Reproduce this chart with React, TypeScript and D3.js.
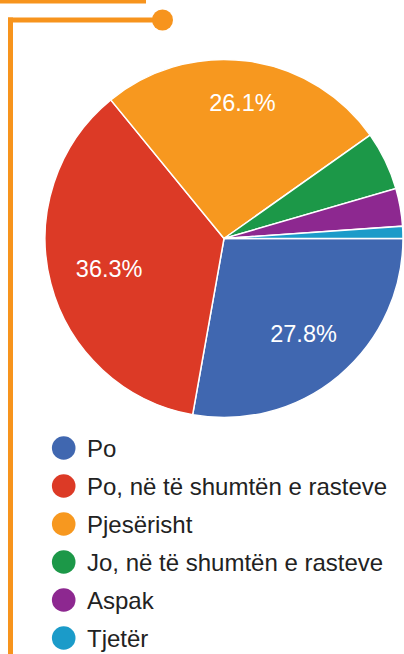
import React from "react";
import * as d3 from "d3";

const categories = ["Po", "Po, në të shumtën e rasteve", "Pjesërisht", "Jo, në të shumtën e rasteve", "Aspak", "Tjetër"];
const values = [27.8, 36.3, 26.1, 5.3, 3.4, 1.1];
const colors = ["#4067b0", "#dc3a26", "#f7981f", "#1c9848", "#8d2890", "#1b9bc9"];
const labelThreshold = 10;

const W = 404;
const H = 654;
const cx = 224;
const cy = 238.5;
const R = 179;
const accent = "#f7941d";
const FONT = "'Liberation Sans', Arial, sans-serif";
const labelSize = 23.5;

function measure(text: string, size: number): number {
  if (typeof document === "undefined") return text.length * size * 0.55;
  const c = document.createElement("canvas").getContext("2d");
  if (!c) return text.length * size * 0.55;
  c.font = `${size}px ${FONT}`;
  return c.measureText(text).width;
}

export default function App() {
  const pie = d3
    .pie<number>()
    .sort(null)
    .value((d) => d)
    .startAngle(Math.PI / 2)
    .endAngle(Math.PI / 2 + 2 * Math.PI);
  const arcs = pie(values);
  const arc = d3.arc<d3.PieArcDatum<number>>().innerRadius(0).outerRadius(R);

  const legendY = d3.scalePoint<number>().domain(d3.range(categories.length)).range([448, 638]);

  // label box placed so its outermost corner lies at 0.855R along the mid-angle
  const Rl = R * 0.855;
  const labelPos = (a: d3.PieArcDatum<number>, text: string) => {
    const mid = (a.startAngle + a.endAngle) / 2;
    const ux = Math.sin(mid);
    const uy = -Math.cos(mid);
    const w = measure(text, labelSize);
    const h = labelSize * 0.716;
    const sx = Math.sign(ux) * (w / 2);
    const sy = Math.sign(uy) * (h / 2);
    const b = ux * sx + uy * sy;
    const c = sx * sx + sy * sy - Rl * Rl;
    const t = -b + Math.sqrt(b * b - c);
    return [t * ux, t * uy];
  };

  return (
    <svg width={W} height={H} style={{ position: "absolute", left: 0, top: 0 }} fontFamily={FONT}>
      <rect x={0} y={0} width={146} height={3.5} fill={accent} />
      <rect x={8} y={17.5} width={150} height={5} fill={accent} />
      <rect x={8} y={17.5} width={5} height={H - 17.5} fill={accent} />
      <circle cx={162.5} cy={20} r={10.5} fill={accent} />

      <g transform={`translate(${cx},${cy})`}>
        {arcs.map((a, i) => (
          <path key={i} d={arc(a) || ""} fill={colors[i]} stroke="#fff" strokeWidth={1.5} />
        ))}
        {arcs.map((a, i) => {
          if (values[i] < labelThreshold) return null;
          const txt = `${values[i].toFixed(1)}%`;
          const [x, y] = labelPos(a, txt);
          return (
            <text key={i} x={x} y={y} dy="0.358em" textAnchor="middle" fill="#fff" fontSize={labelSize}>
              {txt}
            </text>
          );
        })}
      </g>

      {categories.map((c, i) => (
        <g key={c}>
          <circle cx={63.7} cy={legendY(i)} r={11.8} fill={colors[i]} />
          <text x={87} y={(legendY(i) as number) + 8.5} fontSize={24} fill="#222">
            {c}
          </text>
        </g>
      ))}
    </svg>
  );
}
